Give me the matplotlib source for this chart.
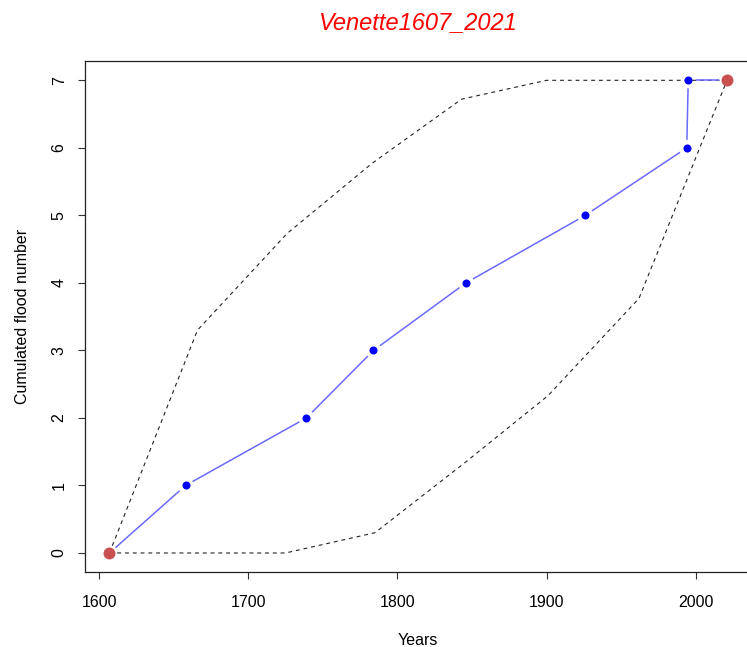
import numpy as np
import matplotlib.pyplot as plt

plt.rcParams['font.family'] = ['Liberation Sans', 'DejaVu Sans']

# observed cumulated floods
years = [1607, 1658, 1739, 1784, 1846, 1926, 1994, 1995, 2021]
counts = [0, 1, 2, 3, 4, 5, 6, 7, 7]
# envelope (dashed)
upper_years = [1607, 1666, 1726, 1783, 1843, 1900, 2021]
upper_counts = [0, 3.3, 4.73, 5.77, 6.72, 7, 7]
lower_years = [1607, 1725, 1785, 1846, 1901, 1962, 2021]
lower_counts = [0, 0, 0.3, 1.35, 2.33, 3.77, 7]
end_years = [years[0], years[-1]]
end_counts = [counts[0], counts[-1]]

fig = plt.figure(figsize=(7.47, 6.47), dpi=100)
ax = fig.add_axes([0.1135, 0.1161, 0.8928, 0.789])
ax.set_xlim(1590.44, 2037.56)
ax.set_ylim(-0.28, 7.28)


def gapped(ax, x, y, gap, **kw):
    # R type="b": segments stop short of the points
    pts = ax.transData.transform(np.column_stack([x, y]))
    inv = ax.transData.inverted()
    for p0, p1 in zip(pts[:-1], pts[1:]):
        d = p1 - p0
        L = np.hypot(*d)
        if L <= 2 * gap:
            continue
        u = d / L
        a, b = inv.transform([p0 + u * gap, p1 - u * gap])
        ax.plot([a[0], b[0]], [a[1], b[1]], **kw)


ax.plot(upper_years, upper_counts, color='#222222', lw=0.8, dashes=(3.5, 3.5))
ax.plot(lower_years, lower_counts, color='#222222', lw=0.8, dashes=(3.5, 3.5))
gapped(ax, years, counts, 8, color='#6a6aff', lw=1.1, solid_capstyle='butt')
ax.plot(years[1:-1], counts[1:-1], 'o', color='blue', markersize=5.8, mew=0)
ax.plot(end_years, end_counts, 'o', color='#c85050', markersize=8.6, mew=0, zorder=5)

ax.set_xticks([1600, 1700, 1800, 1900, 2000])
ax.set_yticks(range(8))
ax.tick_params(direction='out', length=5, width=0.8, labelsize=11.5, color='#333333')
ax.tick_params(axis='x', pad=12)
ax.tick_params(axis='y', labelrotation=90, pad=8)
for lbl in ax.get_yticklabels():
    lbl.set_va('center')
for s in ax.spines.values():
    s.set_linewidth(0.9)
    s.set_color('#222222')

ax.set_xlabel('Years', fontsize=11.5, labelpad=16)
ax.set_ylabel('Cumulated flood number', fontsize=11.5, labelpad=16)
ax.set_title('Venette1607_2021', color='red', style='italic', fontsize=17, pad=23)

fig.savefig('out.png', dpi=100)
